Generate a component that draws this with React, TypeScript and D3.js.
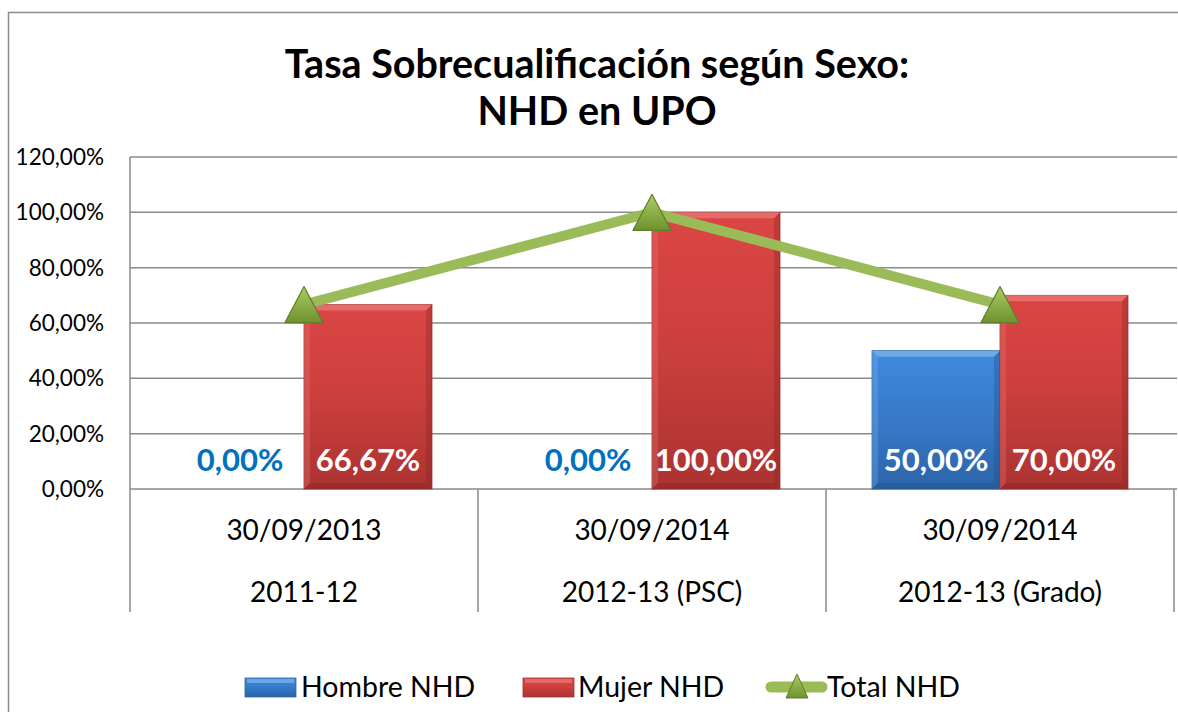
import React from "react";
import * as d3 from "d3";

const categoriesTop = ["30/09/2013", "30/09/2014", "30/09/2014"];
const categoriesBottom = ["2011-12", "2012-13 (PSC)", "2012-13 (Grado)"];
const hombre = [0, 0, 0.5];
const mujer = [0.6667, 1.0, 0.7];
const total = [0.6667, 1.0, 0.6667];
const yTicks = [0, 0.2, 0.4, 0.6, 0.8, 1.0, 1.2];
const seriesNames = ["Hombre NHD", "Mujer NHD", "Total NHD"];

const FONT = "Lato, 'Open Sans', sans-serif";
const W = 1178;
const H = 712;
const plot = { left: 130, right: 1174, top: 157, bottom: 489 };

const fmt = (v: number) =>
  (v * 100).toFixed(2).replace(".", ",") + "%";

export default function App() {
  const idx = categoriesTop.map((_, i) => String(i));
  const x0 = d3.scaleBand<string>().domain(idx).range([plot.left, plot.right]).padding(0);
  const bw = x0.bandwidth();
  const x1 = d3
    .scaleBand<string>()
    .domain(["h", "m"])
    .range([bw * 0.1322, bw * (1 - 0.1322)])
    .padding(0);
  const y = d3.scaleLinear().domain([0, 1.2]).range([plot.bottom, plot.top]);
  const barW = x1.bandwidth();
  const cx = (i: number) => (x0(String(i)) as number) + bw / 2;

  const line = d3
    .line<number>()
    .x((_, i) => cx(i))
    .y((d) => y(d));

  const tri = (x: number, yy: number, w: number, h: number) =>
    `M${x},${yy - h / 2} L${x + w / 2},${yy + h / 2} L${x - w / 2},${yy + h / 2} Z`;

  const bar = (x: number, top: number, w: number, bottom: number, kind: "h" | "m", key: string) => {
    const h = bottom - top;
    if (h <= 0.5) return null;
    const b = 6;
    const light = kind === "m" ? "#e87a78" : "#7fb4ec";
    const dark = kind === "m" ? "#8a2422" : "#1f4f8c";
    return (
      <g key={key}>
        <rect x={x} y={top} width={w} height={h} fill={`url(#grad-${kind})`} stroke={kind === "m" ? "#9b3533" : "#3465a0"} strokeWidth={0.8} />
        <path d={`M${x},${top} L${x + w},${top} L${x + w - b},${top + b} L${x + b},${top + b} Z`} fill={light} opacity={0.75} />
        <path d={`M${x},${top} L${x + b},${top + b} L${x + b},${bottom - b} L${x},${bottom} Z`} fill={light} opacity={0.3} />
        <path d={`M${x + w},${top} L${x + w},${bottom} L${x + w - b},${bottom - b} L${x + w - b},${top + b} Z`} fill={dark} opacity={0.35} />
        <path d={`M${x},${bottom} L${x + w},${bottom} L${x + w - b},${bottom - b} L${x + b},${bottom - b} Z`} fill={dark} opacity={0.45} />
      </g>
    );
  };

  return (
    <svg width={W} height={H} style={{ position: "absolute", left: 0, top: 0 }} fontFamily={FONT}>
      <defs>
        <linearGradient id="grad-m" x1="0" y1="0" x2="0" y2="1">
          <stop offset="0" stopColor="#db4644" />
          <stop offset="0.5" stopColor="#cb3f3d" />
          <stop offset="1" stopColor="#ab3331" />
        </linearGradient>
        <linearGradient id="grad-h" x1="0" y1="0" x2="0" y2="1">
          <stop offset="0" stopColor="#3f8ade" />
          <stop offset="0.5" stopColor="#3779c8" />
          <stop offset="1" stopColor="#2c64a8" />
        </linearGradient>
        <linearGradient id="grad-t" x1="0" y1="0" x2="0" y2="1">
          <stop offset="0" stopColor="#a9cc62" />
          <stop offset="1" stopColor="#6f9230" />
        </linearGradient>
      </defs>
      <rect x={0} y={0} width={W} height={H} fill="#fff" />
      {/* outer border */}
      <path d={`M8.5,${H + 2} L8.5,12.5 L${W + 2},12.5`} fill="none" stroke="#8c8c8c" strokeWidth={1.5} />

      {/* title */}
      <text x={597} y={78} textAnchor="middle" fontSize={39.5} fontWeight="bold" fill="#000">
        Tasa Sobrecualificación según Sexo:
      </text>
      <text x={597} y={125} textAnchor="middle" fontSize={39.5} fontWeight="bold" fill="#000">
        NHD en UPO
      </text>

      {/* gridlines */}
      {yTicks.map((t) => (
        <line key={t} x1={plot.left} x2={plot.right + 3} y1={y(t)} y2={y(t)} stroke="#8a8a8a" strokeWidth={1.5} />
      ))}
      {/* left axis line */}
      <line x1={plot.left} x2={plot.left} y1={plot.top} y2={612} stroke="#8a8a8a" strokeWidth={1.5} />
      {/* category dividers */}
      {idx.map((k) => (
        <line key={k} x1={(x0(k) as number) + bw} x2={(x0(k) as number) + bw} y1={plot.bottom} y2={612} stroke="#8a8a8a" strokeWidth={1.5} />
      ))}

      {/* y tick labels */}
      {yTicks.map((t) => (
        <text key={t} x={104} y={y(t) + 8} textAnchor="end" fontSize={22.5} fill="#000">
          {fmt(t)}
        </text>
      ))}

      {/* bars */}
      {idx.map((k, i) => {
        const base = x0(k) as number;
        return (
          <g key={k}>
            {bar(base + (x1("h") as number), y(hombre[i]), barW, y(0), "h", "h" + i)}
            {bar(base + (x1("m") as number), y(mujer[i]), barW, y(0), "m", "m" + i)}
          </g>
        );
      })}

      {/* total line */}
      <path d={line(total) || ""} fill="none" stroke="#9bbb59" strokeWidth={10} />
      {total.map((v, i) => (
        <path key={i} d={tri(cx(i), y(v), 38, 36)} fill="url(#grad-t)" stroke="#5f7d2a" strokeWidth={1.2} strokeLinejoin="round" />
      ))}

      {/* data labels */}
      {idx.map((k, i) => {
        const base = x0(k) as number;
        const hx = base + (x1("h") as number) + barW / 2;
        const mx = base + (x1("m") as number) + barW / 2;
        return (
          <g key={k} fontSize={31} fontWeight="bold">
            <text x={hx} y={471} textAnchor="middle" fill={hombre[i] > 0 ? "#fff" : "#0070c0"}>
              {fmt(hombre[i])}
            </text>
            <text x={mx} y={471} textAnchor="middle" fill="#fff">
              {fmt(mujer[i])}
            </text>
          </g>
        );
      })}

      {/* category labels */}
      {idx.map((k, i) => (
        <g key={k} fontSize={28} fill="#000">
          <text x={cx(i)} y={540} textAnchor="middle">{categoriesTop[i]}</text>
          <text x={cx(i)} y={602} textAnchor="middle">{categoriesBottom[i]}</text>
        </g>
      ))}

      {/* legend */}
      <g fontSize={28.5} fill="#000">
        <rect x={245} y={678} width={51} height={19} fill="url(#grad-h)" stroke="#3465a0" strokeWidth={0.8} />
        <rect x={247} y={679} width={47} height={4} fill="#7fb4ec" opacity={0.7} />
        <text x={301} y={697}>{seriesNames[0]}</text>
        <rect x={523} y={678} width={51} height={19} fill="url(#grad-m)" stroke="#9b3533" strokeWidth={0.8} />
        <rect x={525} y={679} width={47} height={4} fill="#e87a78" opacity={0.7} />
        <text x={578} y={697}>{seriesNames[1]}</text>
        <line x1={771} x2={822} y1={687} y2={687} stroke="#9bbb59" strokeWidth={11} strokeLinecap="round" />
        <path d={tri(797, 686, 22, 24)} fill="url(#grad-t)" stroke="#5f7d2a" strokeWidth={1} />
        <text x={827} y={697}>{seriesNames[2]}</text>
      </g>
    </svg>
  );
}
